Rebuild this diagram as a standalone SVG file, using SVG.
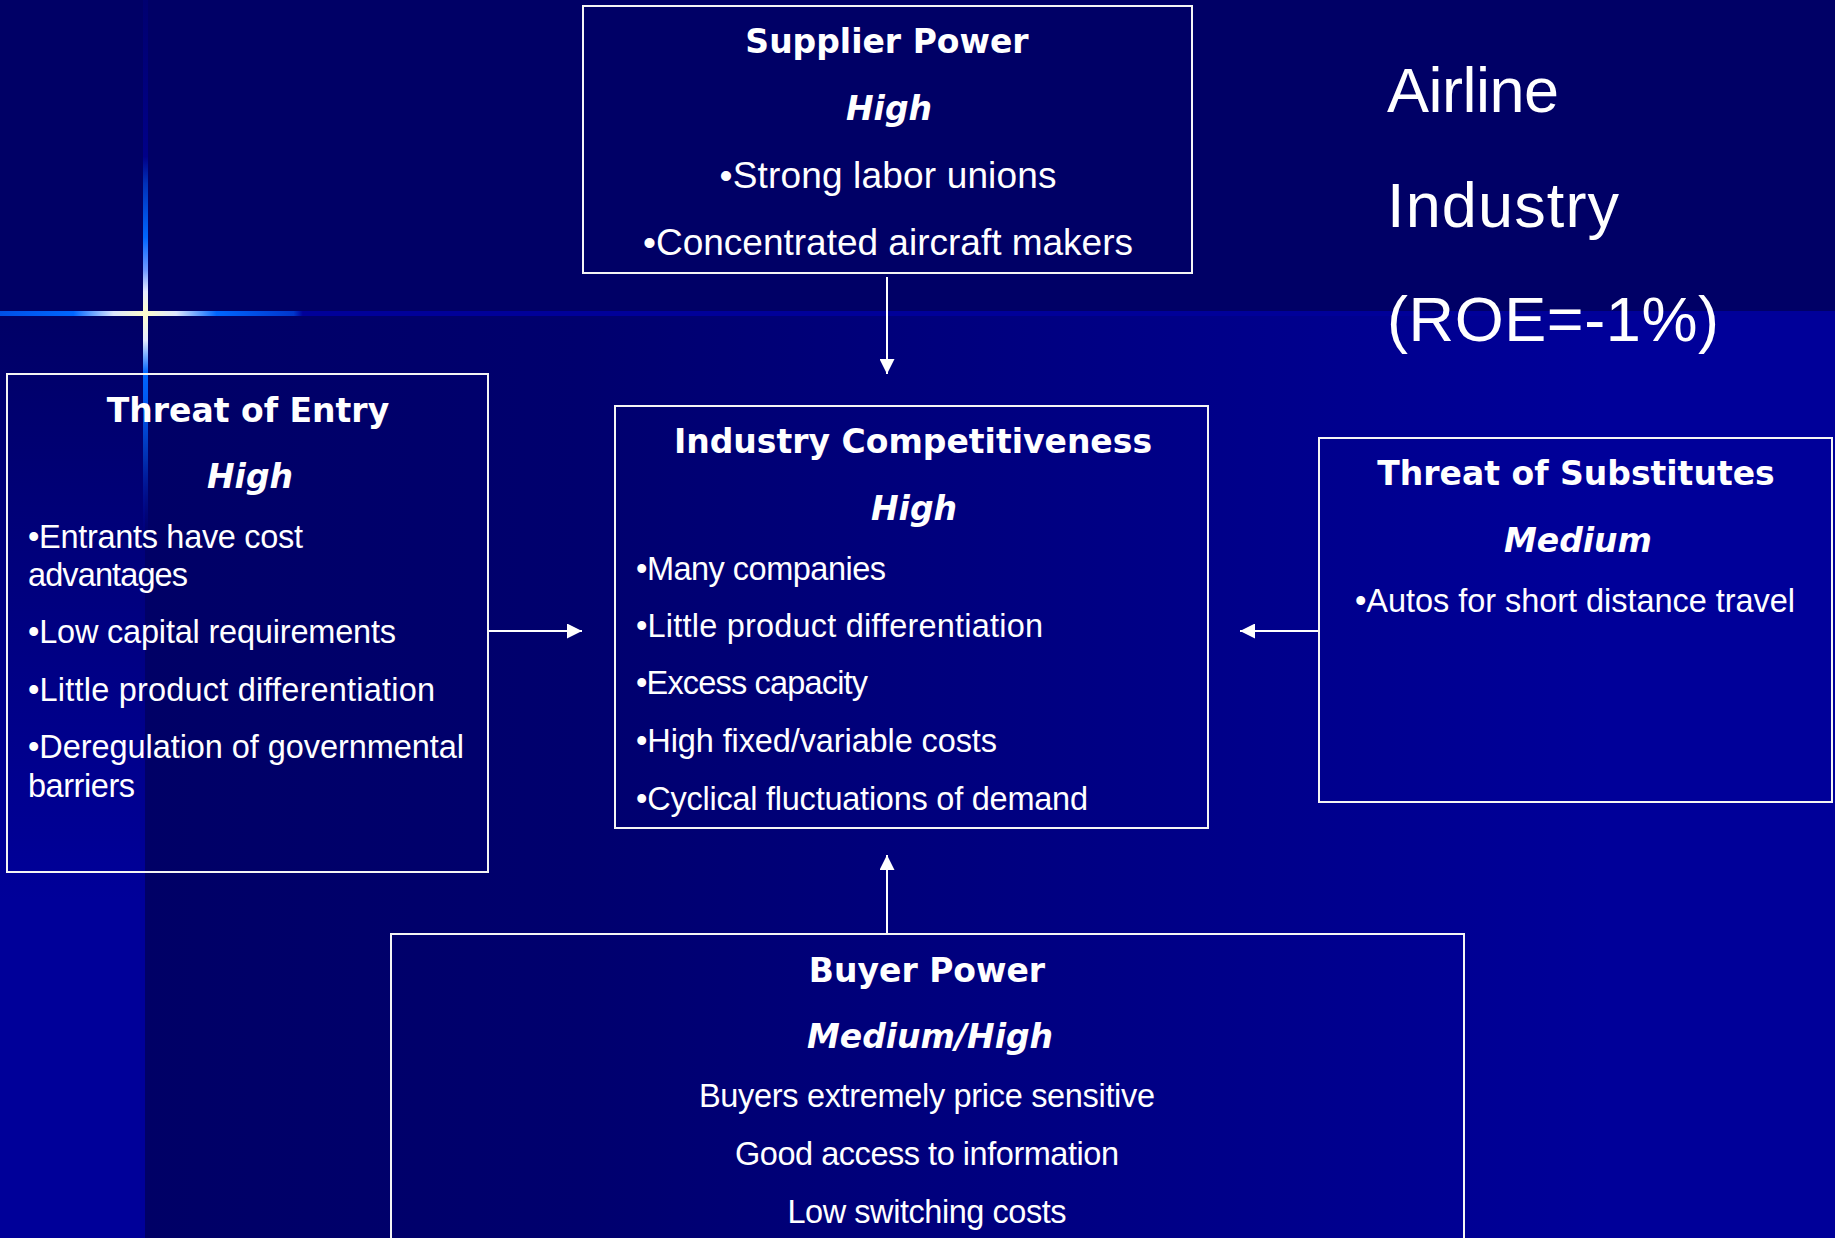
<svg xmlns="http://www.w3.org/2000/svg" width="1835" height="1238" viewBox="0 0 1835 1238">
  <defs>
    <style>
      .box { fill: none; stroke: #f4f4f4; stroke-width: 2; }
      .head { font-family: "DejaVu Sans", "Liberation Sans", sans-serif; font-weight: bold; font-size: 33px; fill: #ffffff; text-anchor: middle; }
      .level { font-family: "DejaVu Sans", "Liberation Sans", sans-serif; font-weight: bold; font-style: italic; font-size: 33px; fill: #ffffff; text-anchor: middle; }
      .item { font-family: "Liberation Sans", Arial, sans-serif; font-size: 32.5px; fill: #ffffff; }
      .big { font-size: 37px; }
      .mid { text-anchor: middle; }
      .title { font-family: "Liberation Sans", Arial, sans-serif; font-size: 63px; fill: #ffffff; }
      .conn line { stroke: #ffffff; stroke-width: 2; }
    </style>
    <marker id="arrow" viewBox="0 0 15 15" refX="15" refY="7.5" markerWidth="15" markerHeight="15" markerUnits="userSpaceOnUse" orient="auto">
      <path d="M0,0 L15,7.5 L0,15 z" fill="#ffffff"/>
    </marker>
    <!-- lower half: dark on the left, brightening to the right -->
    <linearGradient id="lowerFill" gradientUnits="userSpaceOnUse" x1="145" y1="0" x2="1600" y2="0">
      <stop offset="0" stop-color="#000066"/>
      <stop offset="0.3" stop-color="#00006e"/>
      <stop offset="1" stop-color="#000099"/>
    </linearGradient>
    <!-- left strip under the horizon line -->
    <linearGradient id="stripFill" gradientUnits="userSpaceOnUse" x1="0" y1="313" x2="0" y2="900">
      <stop offset="0" stop-color="#000066"/>
      <stop offset="1" stop-color="#000099"/>
    </linearGradient>
    <!-- sparkle beams -->
    <linearGradient id="beamH" gradientUnits="userSpaceOnUse" x1="0" y1="0" x2="1835" y2="0">
      <stop offset="0" stop-color="#0050e6"/>
      <stop offset="0.04" stop-color="#0066ff"/>
      <stop offset="0.062" stop-color="#dde6ff"/>
      <stop offset="0.079" stop-color="#ffffcc"/>
      <stop offset="0.096" stop-color="#dde6ff"/>
      <stop offset="0.118" stop-color="#0066ff"/>
      <stop offset="0.16" stop-color="#0036cc"/>
      <stop offset="0.165" stop-color="#000099"/>
      <stop offset="1" stop-color="#000099"/>
    </linearGradient>
    <linearGradient id="beamV" gradientUnits="userSpaceOnUse" x1="0" y1="0" x2="0" y2="540">
      <stop offset="0" stop-color="#000070"/>
      <stop offset="0.29" stop-color="#000088"/>
      <stop offset="0.34" stop-color="#0030b8"/>
      <stop offset="0.44" stop-color="#0066ff"/>
      <stop offset="0.5" stop-color="#6f99ff"/>
      <stop offset="0.54" stop-color="#e6ecff"/>
      <stop offset="0.58" stop-color="#ffffcc"/>
      <stop offset="0.63" stop-color="#e6ecff"/>
      <stop offset="0.69" stop-color="#0066ff"/>
      <stop offset="0.75" stop-color="#0058ee"/>
      <stop offset="0.85" stop-color="#0030b0"/>
      <stop offset="1" stop-color="#000099" stop-opacity="0"/>
    </linearGradient>
  </defs>

  <!-- background -->
  <g id="background">
    <rect x="0" y="0" width="1835" height="1238" fill="#000066"/>
    <rect x="145" y="313" width="1690" height="925" fill="url(#lowerFill)"/>
    <rect x="0" y="313" width="145" height="925" fill="url(#stripFill)"/>
    <rect x="0" y="311" width="1835" height="5" fill="url(#beamH)"/>
    <rect x="143" y="0" width="5" height="540" fill="url(#beamV)"/>
  </g>

  <!-- title -->
  <g id="title">
    <text class="title" x="1387" y="112" textLength="172">Airline</text>
    <text class="title" x="1387" y="227" textLength="232">Industry</text>
    <text class="title" x="1387" y="341" textLength="332">(ROE=-1%)</text>
  </g>

  <!-- connectors -->
  <g id="connectors" class="conn">
    <line x1="887" y1="277" x2="887" y2="374" marker-end="url(#arrow)"/>
    <line x1="488" y1="631" x2="582" y2="631" marker-end="url(#arrow)"/>
    <line x1="1319" y1="631" x2="1240" y2="631" marker-end="url(#arrow)"/>
    <line x1="887" y1="934" x2="887" y2="855" marker-end="url(#arrow)"/>
  </g>

  <g id="supplier-power">
    <rect class="box" x="583" y="6" width="609" height="267"/>
    <text class="head" x="887" y="53">Supplier Power</text>
    <text class="level" x="889" y="120">High</text>
    <text class="item big mid" x="888" y="188" textLength="337">•Strong labor unions</text>
    <text class="item big mid" x="888" y="255" textLength="490">•Concentrated aircraft makers</text>
  </g>

  <g id="threat-of-entry">
    <rect class="box" x="7" y="374" width="481" height="498"/>
    <text class="head" x="248" y="422">Threat of Entry</text>
    <text class="level" x="250" y="488">High</text>
    <text class="item" x="28" y="548" textLength="275">•Entrants have cost</text>
    <text class="item" x="28" y="586" textLength="160">advantages</text>
    <text class="item" x="28" y="643" textLength="368">•Low capital requirements</text>
    <text class="item" x="28" y="701" textLength="407">•Little product differentiation</text>
    <text class="item" x="28" y="758" textLength="436">•Deregulation of governmental</text>
    <text class="item" x="28" y="797" textLength="107">barriers</text>
  </g>

  <g id="industry-competitiveness">
    <rect class="box" x="615" y="406" width="593" height="422"/>
    <text class="head" x="913" y="453">Industry Competitiveness</text>
    <text class="level" x="914" y="520">High</text>
    <text class="item" x="636" y="580" textLength="250">•Many companies</text>
    <text class="item" x="636" y="637" textLength="407">•Little product differentiation</text>
    <text class="item" x="636" y="694" textLength="232">•Excess capacity</text>
    <text class="item" x="636" y="752" textLength="361">•High fixed/variable costs</text>
    <text class="item" x="636" y="810" textLength="452">•Cyclical fluctuations of demand</text>
  </g>

  <g id="threat-of-substitutes">
    <rect class="box" x="1319" y="438" width="513" height="364"/>
    <text class="head" x="1576" y="485">Threat of Substitutes</text>
    <text class="level" x="1578" y="552">Medium</text>
    <text class="item" x="1355" y="612" textLength="440">•Autos for short distance travel</text>
  </g>

  <g id="buyer-power">
    <rect class="box" x="391" y="934" width="1073" height="330"/>
    <text class="head" x="927" y="982">Buyer Power</text>
    <text class="level" x="930" y="1048">Medium/High</text>
    <text class="item mid" x="927" y="1107" textLength="456">Buyers extremely price sensitive</text>
    <text class="item mid" x="927" y="1165" textLength="384">Good access to information</text>
    <text class="item mid" x="927" y="1223" textLength="279">Low switching costs</text>
  </g>
</svg>
